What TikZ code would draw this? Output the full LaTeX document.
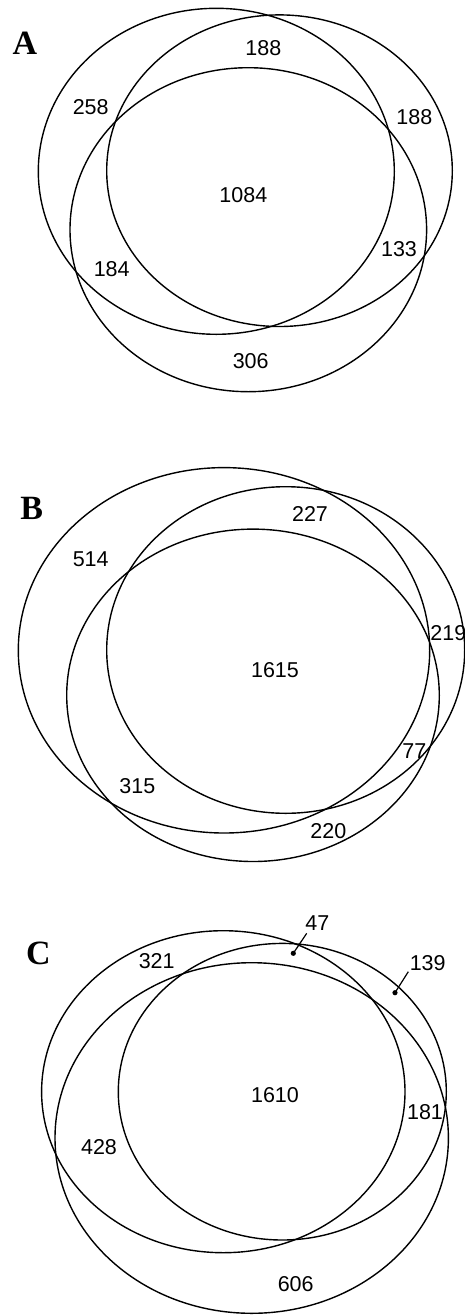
\documentclass[tikz,border=0pt]{standalone}
\usepackage{fontspec}
\newfontfamily\numfont{Liberation Sans}
\newfontfamily\panelfont{Liberation Serif}
\begin{document}
\begin{tikzpicture}[x=1pt,y=-1pt,
  set/.style={draw=black,line width=1.4pt},
  count/.style={font=\numfont\fontsize{21.5}{24}\selectfont,inner sep=0pt},
  panel/.style={font=\panelfont\bfseries\fontsize{34}{38}\selectfont,inner sep=0pt},
  leader/.style={draw=black,line width=1.2pt},
  tip/.style={fill=black}]
\useasboundingbox (0,0) rectangle (464,1315);

% ---------- panel A ----------
\draw[set] (216.3,171.3) ellipse [x radius=178pt, y radius=163pt];
\draw[set] (279.5,170.7) ellipse [x radius=172.8pt, y radius=155.8pt];
\draw[set] (248.3,229.7) ellipse [x radius=178.3pt, y radius=162pt];
\node[panel] (lA) at (25,43.3) {A};
\node[count] (a1) at (263.3,48.3) {188};
\node[count] (a2) at (90.7,106.7) {258};
\node[count] (a3) at (414.3,117.3) {188};
\node[count] (a4) at (243.3,195) {1084};
\node[count] (a5) at (111.7,269.3) {184};
\node[count] (a6) at (399,249.3) {133};
\node[count] (a7) at (250.7,360.7) {306};

% ---------- panel B ----------
\draw[set] (224,650.3) ellipse [x radius=205.7pt, y radius=182.7pt];
\draw[set] (285.7,650) ellipse [x radius=179pt, y radius=163.3pt];
\draw[set] (253,695.3) ellipse [x radius=186.3pt, y radius=166.2pt];
\node[panel] (lB) at (31.7,508.3) {B};
\node[count] (b1) at (310,514) {227};
\node[count] (b2) at (90.7,559.3) {514};
\node[count] (b3) at (448.3,633.3) {219};
\node[count] (b4) at (275,670) {1615};
\node[count] (b5) at (414.3,750.7) {77};
\node[count] (b6) at (137.3,785.7) {315};
\node[count] (b7) at (328.3,830.7) {220};

% ---------- panel C ----------
\draw[set] (223.3,1091.7) ellipse [x radius=181.7pt, y radius=161pt];
\draw[set] (282.3,1091.7) ellipse [x radius=164pt, y radius=148.3pt];
\draw[set] (251.7,1138) ellipse [x radius=196.7pt, y radius=175.3pt];
\node[panel] (lC) at (38.3,953.3) {C};
\node[count] (c1) at (317.3,922.7) {47};
\node[count] (c2) at (427.7,963.3) {139};
\node[count] (c3) at (156.7,961) {321};
\node[count] (c4) at (275,1095) {1610};
\node[count] (c5) at (425,1111.7) {181};
\node[count] (c6) at (99,1146.7) {428};
\node[count] (c7) at (295.7,1284.3) {606};
% leaders to the two small regions
\coordinate (p47) at (293.3,953.3);
\coordinate (p139) at (395,992.7);
\coordinate (e47) at (306.7,933.3);
\coordinate (e139) at (408.3,971.7);
\draw[leader] (p47) -- (e47);
\draw[leader] (p139) -- (e139);
\fill[tip] (p47) circle (2.6pt);
\fill[tip] (p139) circle (2.6pt);
\end{tikzpicture}
\end{document}
